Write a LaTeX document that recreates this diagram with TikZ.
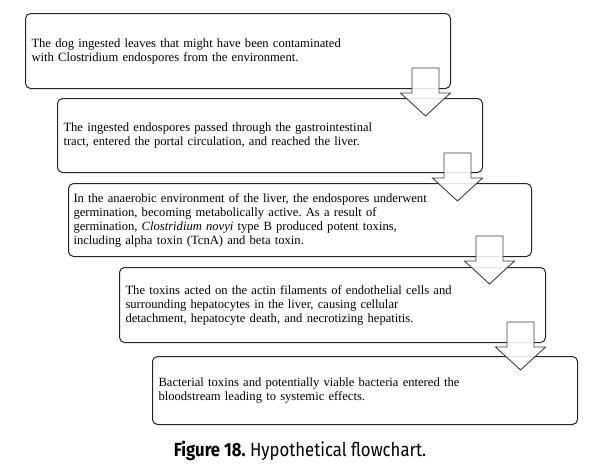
\documentclass[tikz,border=0pt]{standalone}
\usepackage{fontspec}
\setmainfont{Liberation Serif}
\newfontfamily\capfont[FakeStretch=0.88]{Fira Sans}
\frenchspacing
\begin{document}
\begin{tikzpicture}[x=1pt,y=-1pt,
  flowbox/.style={draw=black!85, line width=1pt, rounded corners=5pt, anchor=north west,
    align=left, inner xsep=6pt, inner ysep=0pt,
    font=\fontsize{12.6}{14}\selectfont},
  barrow/.style={draw=black!75, line width=0.9pt, fill=white, fill opacity=0.88}]
\useasboundingbox (0,0) rectangle (589,472);
\fill[white] (0,0) rectangle (589,472);
\node[flowbox, text width=413pt, minimum height=75pt] (b1) at (25,13)
  {The dog ingested leaves that might have been contaminated\\
   with Clostridium endospores from the environment.};
\node[flowbox, text width=413pt, minimum height=74pt] (b2) at (57,98)
  {The ingested endospores passed through the gastrointestinal\\
   tract, entered the portal circulation, and reached the liver.};
\node[flowbox, text width=453pt, minimum height=73pt, inner xsep=5pt] (b3) at (68,183)
  {In the anaerobic environment of the liver, the endospores underwent\\
   germination, becoming metabolically active. As a result of\\
   germination, \textit{Clostridium novyi} type B produced potent toxins,\\
   including alpha toxin (TcnA) and beta toxin.};
\node[flowbox, text width=414pt, minimum height=75pt] (b4) at (119,267)
  {The toxins acted on the actin filaments of endothelial cells and\\
   surrounding hepatocytes in the liver, causing cellular\\
   detachment, hepatocyte death, and necrotizing hepatitis.};
\node[flowbox, text width=413pt, minimum height=68pt] (b5) at (152,356)
  {Bacterial toxins and potentially viable bacteria entered the\\
   bloodstream leading to systemic effects.};
\coordinate (a1) at (425.5,68);
\coordinate (a2) at (457.5,153);
\coordinate (a3) at (489.5,236);
\coordinate (a4) at (520.5,322);
\foreach \a in {a1,a2,a3,a4}{
  \draw[barrow] (\a) ++(-13.5,0) -- ++(27,0) -- ++(0,25) -- ++(11.5,0)
     -- ++(-25,23) -- ++(-25,-23) -- ++(11.5,0) -- cycle;
}
\node[font=\capfont\fontsize{19}{21}\selectfont, text=black] (cap) at (300,451)
  {\textbf{Figure 18.} Hypothetical flowchart.};
\end{tikzpicture}
\end{document}
